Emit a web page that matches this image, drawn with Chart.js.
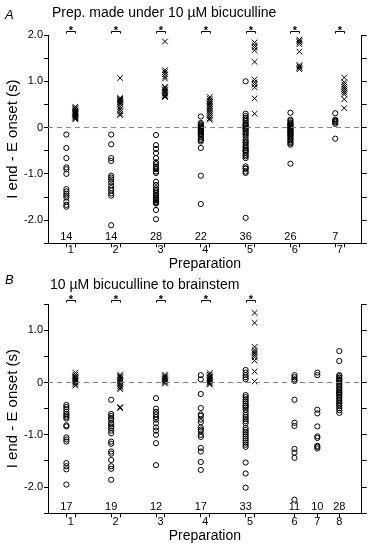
<!DOCTYPE html>
<html><head><meta charset="utf-8">
<script src="https://cdn.jsdelivr.net/npm/chart.js@4/dist/chart.umd.min.js"></script>
<style>
html,body{margin:0;padding:0;background:#fff;}
body{width:372px;height:547px;position:relative;overflow:hidden;font-family:"Liberation Sans",Arial,sans-serif;color:#000;}
canvas{position:absolute;left:0;}
.t{position:absolute;white-space:nowrap;font-size:14px;line-height:14px;z-index:2;}
.l{position:absolute;font-size:13px;line-height:13px;font-style:italic;z-index:2;}
</style></head><body>
<canvas id="cA" width="372" height="273" style="top:0"></canvas>
<canvas id="cB" width="372" height="274" style="top:273px"></canvas>
<div class="l" style="left:5px;top:8px">A</div>
<div class="t" style="left:52px;top:5px">Prep. made under 10 µM bicuculline</div>
<div class="l" style="left:5px;top:273px">B</div>
<div class="t" style="left:50px;top:277px">10 µM bicuculline to brainstem</div>
<script>
// ---------- Panel A data ----------
const prepLabelsA = ['1','2','3','4','5','6','7'];
const prepPosA = [1,2,3,4,5,6,7];
const nA = [14,14,28,22,36,26,7];
const sigA = [true,true,true,true,true,true,true];
const circlesA = [
  [-0.15,-0.44,-0.66,-0.86,-0.9,-1.0,-1.33,-1.38,-1.43,-1.47,-1.51,-1.6,-1.67,-1.71],
  [-0.15,-0.36,-0.66,-0.72,-1.04,-1.08,-1.12,-1.18,-1.25,-1.31,-1.36,-1.42,-1.47,-2.11],
  [-0.16,-0.38,-0.46,-0.55,-0.66,-0.75,-0.79,-0.84,-0.88,-0.9,-0.95,-0.98,-1.17,-1.24,-1.31,-1.35,-1.38,-1.42,-1.46,-1.49,-1.53,-1.55,-1.57,-1.6,-1.62,-1.64,-1.78,-1.98],
  [0.24,0.1,0.07,0.05,0.03,0.01,0,-0.02,-0.04,-0.06,-0.08,-0.1,-0.13,-0.15,-0.16,-0.2,-0.24,-0.27,-0.3,-0.44,-1.04,-1.65],
  [1.0,0.3,0.25,0.21,0.17,0.14,0.1,0.07,0.05,0.03,0,-0.02,-0.04,-0.08,-0.12,-0.15,-0.2,-0.26,-0.3,-0.33,-0.37,-0.41,-0.44,-0.48,-0.5,-0.51,-0.55,-0.59,-0.62,-0.66,-0.84,-0.88,-0.89,-0.95,-0.98,-1.95],
  [0.32,0.17,0.14,0.11,0.09,0.07,0.05,0.03,0.01,-0.01,-0.03,-0.05,-0.07,-0.09,-0.11,-0.13,-0.15,-0.17,-0.19,-0.22,-0.25,-0.28,-0.31,-0.34,-0.37,-0.78],
  [0.31,0.17,0.15,0.13,0.11,0.08,-0.24]
];
const crossesA = [
  [0.45,0.42,0.4,0.37,0.35,0.33,0.31,0.3,0.28,0.26,0.24,0.22,0.2,0.18],
  [1.07,0.64,0.62,0.6,0.58,0.56,0.55,0.52,0.5,0.45,0.4,0.35,0.3,0.27],
  [1.86,1.24,1.2,1.15,1.1,1.06,0.88,0.85,0.82,0.8,0.77,0.74,0.71,0.68,0.66],
  [0.66,0.62,0.58,0.55,0.52,0.5,0.47,0.44,0.4,0.36,0.32,0.28,0.24,0.2,0.17],
  [1.84,1.78,1.73,1.67,1.42,1.04,0.98,0.93,0.87,0.63,0.3],
  [1.9,1.87,1.84,1.8,1.64,1.35,1.32,1.29,1.26],
  [1.08,0.98,0.93,0.88,0.84,0.8,0.76,0.72,0.61,0.42]
];
const yTickValsA = [2,1,0,-1,-2];
const yTickTextA = ['2.0','1.0','0','-1.0','-2.0'];

// ---------- Panel B data ----------
const prepLabelsB = ['1','2','3','4','5','6','7','8'];
const prepPosB = [1,2,3,4,5,6.09,6.6,7.09];
const nB = [17,19,12,17,33,11,10,28];
const sigB = [true,true,true,true,true,false,false,false];
const circlesB = [
  [-0.43,-0.47,-0.51,-0.56,-0.6,-0.63,-0.66,-0.69,-0.82,-0.84,-1.05,-1.09,-1.13,-1.54,-1.6,-1.66,-1.95],
  [-0.33,-0.6,-0.64,-0.68,-0.71,-0.77,-0.8,-0.84,-0.87,-0.92,-0.97,-1.13,-1.17,-1.32,-1.36,-1.48,-1.6,-1.65,-1.86],
  [-0.3,-0.5,-0.56,-0.61,-0.66,-0.71,-0.78,-0.86,-0.92,-1.0,-1.16,-1.58],
  [0.14,0.06,-0.22,-0.49,-0.61,-0.64,-0.71,-0.76,-0.86,-0.9,-0.93,-1.0,-1.04,-1.25,-1.32,-1.52,-1.67],
  [0.24,0.19,0.14,0.1,0.06,-0.24,-0.28,-0.32,-0.36,-0.4,-0.44,-0.45,-0.48,-0.52,-0.57,-0.62,-0.66,-0.7,-0.74,-0.78,-0.87,-0.91,-0.95,-0.99,-1.03,-1.07,-1.11,-1.15,-1.19,-1.23,-1.53,-1.74,-2.01],
  [0.14,0.1,0.06,0.03,-0.33,-0.77,-0.83,-1.27,-1.34,-1.44,-2.24],
  [0.19,0.14,-0.52,-0.59,-0.84,-1.03,-1.06,-1.21,-1.23,-1.26],
  [0.6,0.41,0.14,0.12,0.09,0.06,0.05,0.03,0.0,-0.03,-0.06,-0.09,-0.12,-0.15,-0.18,-0.2,-0.21,-0.24,-0.27,-0.3,-0.33,-0.36,-0.39,-0.42,-0.45,-0.49,-0.53,-0.58]
];
const crossesB = [
  [0.19,0.15,0.12,0.1,0.08,0.06,0.04,0.02,0.0,-0.03,-0.06],
  [0.15,0.12,0.1,0.08,0.05,0.02,0,-0.03,-0.07,-0.1,-0.13,-0.47,-0.49],
  [0.15,0.12,0.1,0.08,0.06,0.04,0.02,0.0,-0.02],
  [0.18,0.15,0.12,0.1,0.08,0.06,0.04,0.02,0.0,-0.02,-0.04],
  [1.33,1.14,0.68,0.62,0.58,0.55,0.52,0.48,0.42,0.21,0.02],
  [],[],[]
];
const yTickValsB = [1,0,-1,-2];
const yTickTextB = ['1.0','0','-1.0','-2.0'];

// ---------- common ----------
const X_MIN = 0.59, X_MAX = 7.59;
const CROSS_OFFSET = 0.2;
const N_LABEL_Y = -2.37;
const FONT = '"Liberation Sans", Arial, sans-serif';
Chart.defaults.font.family = FONT;
Chart.defaults.color = '#000';

const annot = {
  id: 'annot',
  afterDraw(chart, args, o) {
    const {ctx, chartArea, scales} = chart;
    const x = scales.x, y = scales.y;
    ctx.save();
    ctx.fillStyle = '#000'; ctx.strokeStyle = '#000'; ctx.lineWidth = 1;
    ctx.textAlign = 'center';
    o.pos.forEach((p, i) => {
      ctx.font = '11px ' + FONT;
      ctx.textBaseline = 'middle';
      ctx.fillText(String(o.n[i]), x.getPixelForValue(p), y.getPixelForValue(N_LABEL_Y));
      if (o.sig[i]) {
        const x1 = Math.round(x.getPixelForValue(p)) + 0.5;
        const x2 = Math.round(x.getPixelForValue(p + CROSS_OFFSET)) + 0.5;
        const yl = Math.round(chartArea.top - 4) + 0.5;
        const yb = chartArea.top - 1.5;
        ctx.beginPath();
        ctx.moveTo(x1, yb); ctx.lineTo(x1, yl); ctx.lineTo(x2, yl); ctx.lineTo(x2, yb);
        ctx.stroke();
        ctx.font = 'bold 11px ' + FONT;
        ctx.textBaseline = 'alphabetic';
        ctx.fillText('*', (x1 + x2) / 2, chartArea.top - 0.8);
      }
    });
    ctx.restore();
  }
};

function build(id, pos, labels, circles, crosses, n, sig, yMin, yMax, yVals, yText, d) {
  const circData = [];
  circles.forEach((arr, i) => arr.forEach(v => circData.push({x: pos[i], y: v})));
  const crossData = [];
  crosses.forEach((arr, i) => arr.forEach(v => crossData.push({x: pos[i] + CROSS_OFFSET, y: v})));
  const xt = [];
  pos.forEach((p, i) => {
    if (crosses[i].length) {
      xt.push({v: p, l: '', m: true});
      xt.push({v: p + CROSS_OFFSET / 2, l: labels[i], m: false});
      xt.push({v: p + CROSS_OFFSET, l: '', m: true});
    } else {
      xt.push({v: p, l: labels[i], m: true});
    }
  });
  const yLabel = v => { const k = yVals.findIndex(t => Math.abs(t - v) < 1e-6); return k >= 0 ? yText[k] : ''; };
  new Chart(document.getElementById(id), {
    type: 'scatter',
    data: {datasets: [
      {type: 'line', data: [{x: X_MIN, y: 0}, {x: X_MAX, y: 0}], borderColor: '#808080', borderWidth: 1, borderDash: [5, 4], pointRadius: 0, fill: false},
      {data: circData, pointStyle: 'circle', pointRadius: 2.6, borderColor: '#000', backgroundColor: 'rgba(0,0,0,0)', borderWidth: 1},
      {data: crossData, pointStyle: 'crossRot', pointRadius: 4, borderColor: '#000', backgroundColor: '#000', borderWidth: 1}
    ]},
    options: {
      responsive: false, animation: false, devicePixelRatio: 1,
      layout: {padding: {top: d.top, left: 0, right: 0, bottom: 0}},
      plugins: {legend: {display: false}, tooltip: {enabled: false}, annot: {pos: pos, n: n, sig: sig}},
      scales: {
        x: {
          type: 'linear', min: X_MIN, max: X_MAX,
          afterBuildTicks: s => { s.ticks = xt.map(t => ({value: t.v})); },
          afterFit: s => { s.height = d.xh; },
          ticks: {autoSkip: false, maxRotation: 0, minRotation: 0, padding: d.xpad, color: '#000', font: {size: 11},
                  callback: (v, i) => xt[i] ? xt[i].l : ''},
          grid: {drawOnChartArea: false, tickLength: 4, tickWidth: 1,
                 tickColor: c => (xt[c.index] && xt[c.index].m) ? '#000' : 'rgba(0,0,0,0)'},
          border: {display: true, color: '#000', width: 1},
          title: {display: true, text: 'Preparation', color: '#000', font: {size: 14}, padding: {top: 0, bottom: d.xtp}}
        },
        y: {
          type: 'linear', position: 'left', min: yMin, max: yMax,
          afterFit: s => { s.width = 48; },
          ticks: {stepSize: 0.5, padding: 1, color: '#000', font: {size: 11}, callback: v => yLabel(v)},
          grid: {drawOnChartArea: false, tickLength: 4, tickColor: '#000'},
          border: {display: true, color: '#000', width: 1},
          title: {display: true, text: 'I end - E onset (s)', color: '#000', font: {size: 15}, padding: {top: 4, bottom: 0}}
        },
        y2: {
          type: 'linear', position: 'right', min: yMin, max: yMax,
          afterFit: s => { s.width = 10.3; },
          ticks: {display: false, stepSize: 0.5},
          grid: {drawOnChartArea: false, tickLength: 5, tickColor: '#000'},
          border: {display: true, color: '#000', width: 1}
        }
      }
    },
    plugins: [annot]
  });
}

build('cA', prepPosA, prepLabelsA, circlesA, crossesA, nA, sigA, -2.5, 2.0, yTickValsA, yTickTextA,
      {top: 35, xh: 29.7, xpad: -4, xtp: 0});
build('cB', prepPosB, prepLabelsB, circlesB, crossesB, nB, sigB, -2.5, 1.5, yTickValsB, yTickTextB,
      {top: 31, xh: 33.7, xpad: -2, xtp: 2});
</script>
</body></html>
